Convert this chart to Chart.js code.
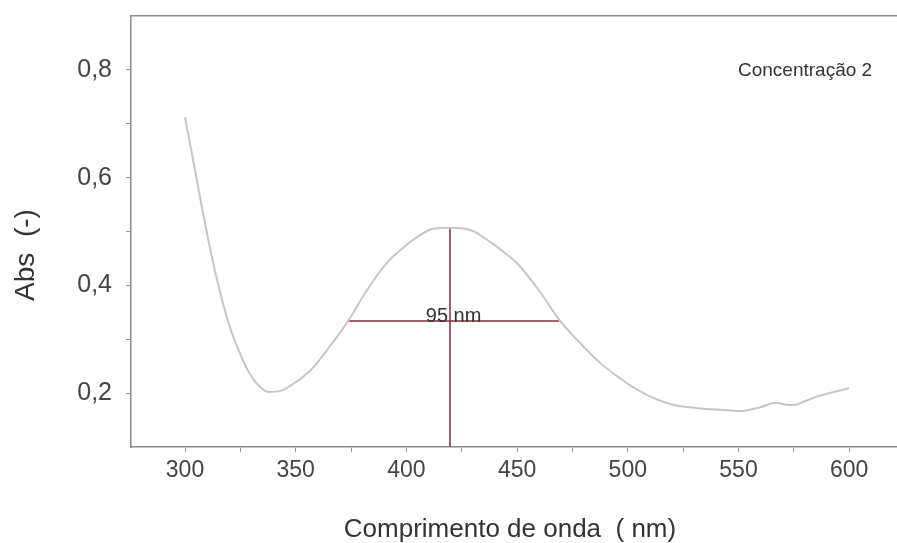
<!DOCTYPE html>
<html>
<head>
<meta charset="utf-8">
<script src="https://cdn.jsdelivr.net/npm/chart.js@4.4.1/dist/chart.umd.min.js"></script>
<style>
  body { margin: 0; background: #fff; }
  #box { width: 897px; height: 543px; }
</style>
</head>
<body>
<div id="box"><canvas id="grafico"></canvas></div>
<script>
// dati
const comprimento = [300, 304, 308, 312, 316, 320, 325, 329, 334, 338, 344, 348, 352, 358, 366, 374, 382, 391, 398, 405, 412, 420, 430, 436, 443, 450, 460, 469, 478, 487, 495, 502, 510, 520, 532, 542, 551, 556, 560, 567, 571, 575, 580, 585, 593, 600];
const absorbancia = [0.712, 0.625, 0.537, 0.455, 0.385, 0.326, 0.272, 0.238, 0.211, 0.202, 0.205, 0.215, 0.226, 0.248, 0.290, 0.336, 0.390, 0.441, 0.468, 0.490, 0.505, 0.507, 0.501, 0.486, 0.465, 0.441, 0.390, 0.336, 0.295, 0.258, 0.232, 0.212, 0.194, 0.179, 0.172, 0.169, 0.167, 0.170, 0.174, 0.182, 0.179, 0.178, 0.185, 0.193, 0.202, 0.209];

// linee rosse (picco e larghezza a metà altezza)
const picoX = [419.7, 419.7];
const picoY = [0.1, 0.507];
const larguraX = [373.2, 469];
const larguraY = [0.334, 0.334];

const xTicks = [300, 325, 350, 375, 400, 425, 450, 475, 500, 525, 550, 575, 600];
const xLabels = [300, 350, 400, 450, 500, 550, 600];
const yTicks = [0.2, 0.3, 0.4, 0.5, 0.6, 0.7, 0.8];
const yLabels = [0.2, 0.4, 0.6, 0.8];

const serie = "Concentração 2";
const larguraTexto = "95 nm";
const tituloX = "Comprimento de onda  ( nm)";
const tituloY = "Abs  (-)";

const FONT = '"Liberation Sans", Arial, sans-serif';

const testi = {
    id: "testi",
    afterDatasetsDraw(chart) {
        const { ctx, scales: { x, y } } = chart;
        ctx.save();
        ctx.fillStyle = "#333";

        // 95 nm sopra la linea orizzontale
        ctx.font = "20px " + FONT;
        ctx.textAlign = "center";
        ctx.textBaseline = "alphabetic";
        ctx.fillText(larguraTexto, x.getPixelForValue(421.3), y.getPixelForValue(larguraY[0]) + 1);

        // nome della serie
        ctx.font = "19px " + FONT;
        ctx.textAlign = "left";
        ctx.fillText(serie, 738, 76);

        // titoli assi
        ctx.font = "26px " + FONT;
        ctx.textAlign = "center";
        ctx.fillText(tituloX, 510, 537);

        ctx.translate(34, 255);
        ctx.rotate(-Math.PI / 2);
        ctx.font = "28px " + FONT;
        ctx.fillText(tituloY, 0, 0);
        ctx.restore();
    }
};

const ctx = document.getElementById("grafico").getContext("2d");

const chart = new Chart(ctx,
    {
        type: "line",
        data:
        {
            datasets:
                [
                    {
                        label: serie,
                        data: comprimento.map((v, i) => ({ x: v, y: absorbancia[i] })),
                        borderColor: "#c6c6c6",
                        borderWidth: 2,
                        pointRadius: 0,
                        cubicInterpolationMode: "monotone"
                    },
                    {
                        data: picoX.map((v, i) => ({ x: v, y: picoY[i] })),
                        borderColor: "#8b2838",
                        borderWidth: 1.5,
                        pointRadius: 0
                    },
                    {
                        data: larguraX.map((v, i) => ({ x: v, y: larguraY[i] })),
                        borderColor: "#8b2838",
                        borderWidth: 1.5,
                        pointRadius: 0
                    }
                ]
        },
        options:
        {
            animation: false,
            responsive: true,
            maintainAspectRatio: false,
            layout: { padding: 0 },
            plugins:
            {
                legend: { display: false },
                tooltip: { enabled: false }
            },
            scales:
            {
                x:
                {
                    type: "linear",
                    position: "bottom",
                    min: 275.6,
                    max: 621.6,
                    afterBuildTicks: s => { s.ticks = xTicks.map(v => ({ value: v })); },
                    afterFit: s => { s.height = 96; s.paddingLeft = 0; s.paddingRight = 0; },
                    ticks:
                    {
                        autoSkip: false,
                        maxRotation: 0,
                        padding: 5,
                        color: "#444",
                        font: { family: FONT, size: 23 },
                        callback: v => xLabels.includes(v) ? String(v) : ""
                    },
                    grid: { drawOnChartArea: false, tickLength: 5, color: "#999" },
                    border: { display: true, color: "#8a8a8a", width: 1.5 }
                },
                x2:
                {
                    type: "linear",
                    position: "top",
                    min: 275.6,
                    max: 621.6,
                    afterFit: s => { s.height = 16; s.paddingLeft = 0; s.paddingRight = 0; },
                    ticks: { display: false },
                    grid: { drawOnChartArea: false, drawTicks: false },
                    border: { display: true, color: "#8a8a8a", width: 1.5 }
                },
                y:
                {
                    min: 0.1,
                    max: 0.9,
                    afterBuildTicks: s => { s.ticks = yTicks.map(v => ({ value: v })); },
                    afterFit: s => { s.width = 131; s.paddingTop = 0; s.paddingBottom = 0; },
                    ticks:
                    {
                        padding: 14,
                        color: "#444",
                        font: { family: FONT, size: 25 },
                        callback: v => yLabels.some(l => Math.abs(l - v) < 1e-6) ? v.toFixed(1).replace(".", ",") : ""
                    },
                    grid: { drawOnChartArea: false, tickLength: 5, color: "#999" },
                    border: { display: true, color: "#8a8a8a", width: 1.5 }
                }
            }
        },
        plugins: [testi]
    });
</script>
</body>
</html>
